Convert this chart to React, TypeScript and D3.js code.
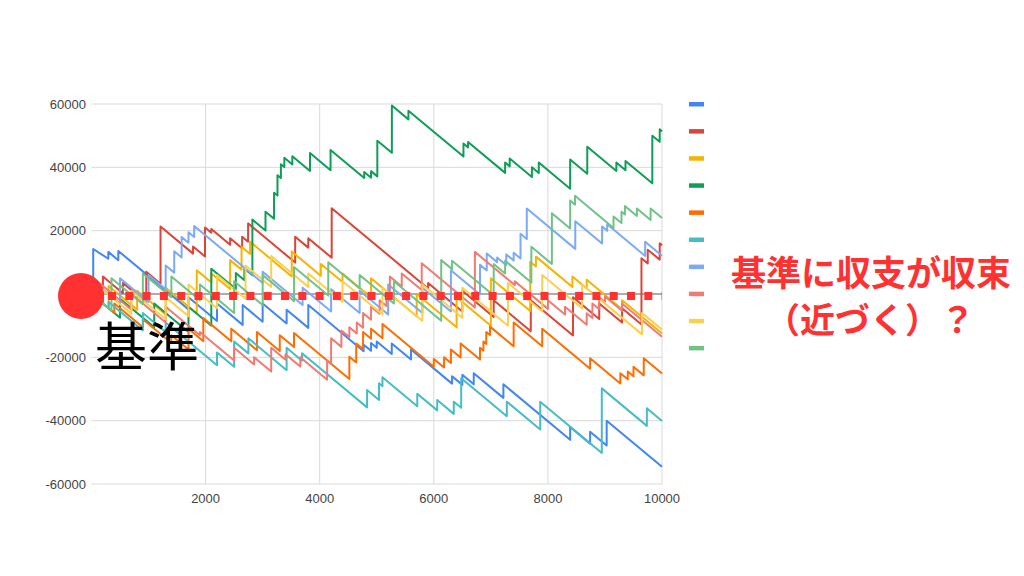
import React from "react";
import * as d3 from "d3";

// Tick labels
const yTicks = [60000, 40000, 20000, 0, -20000, -40000, -60000];
const yTickLabels = ["60000", "40000", "20000", "", "-20000", "-40000", "-60000"];
const xTicks = [2000, 4000, 6000, 8000, 10000];
const xTickLabels = ["2000", "4000", "6000", "8000", "10000"];

// Series: jumps as [x, valueBeforeJump, valueAfterJump]; each series starts at (0,0)
const blueJumps = [
  [30, -450, 14200], [295, 11140, 13300], [470, 10675, 13600], [1700, -4850, -1000],
  [2200, -8500, -3000], [2650, -9750, -3500], [3000, -8750, -3000], [3420, -9300, -5000],
  [3800, -10700, -3500], [4770, -18050, -16000], [4900, -17950, -15500], [5000, -17000, -15000],
  [5263, -18945, -15600], [5600, -20655, -17500], [6320, -28300, -26000], [6500, -28700, -25500],
  [6700, -28500, -25000], [7220, -32800, -28500], [8390, -46050, -42000], [8740, -47250, -43500],
  [9030, -47850, -40000],
];
const blueEnd = -54550;

const redJumps = [
  [200, -3000, 5500], [550, 250, 3500], [960, -2650, 7000], [1210, 3250, 21300],
  [1780, 12750, 15000], [1990, 11850, 21000], [2100, 19350, 20500], [2430, 15550, 17600],
  [2640, 14450, 18100], [2745, 16525, 22300], [3570, 9925, 18100], [3800, 14650, 17600],
  [4210, 11450, 27100], [5900, 1750, 3500], [6500, -5500, 1000], [7050, -7250, -2000],
  [7700, -11750, -2000], [8440, -13100, -1000], [8900, -7900, -3000], [9300, -9000, -4500],
  [9640, -9600, 11300], [9750, 9650, 14000], [9960, 10850, 16000],
];
const redEnd = 15400;

const yellowJumps = [
  [300, -4500, 2500], [800, -5000, 1000], [1300, -6500, 2000], [1845, -6175, 7500],
  [2100, 3675, 6500], [2430, 1550, 10700], [2630, 7700, 14900], [2780, 12650, 16500],
  [3510, 5550, 13400], [4020, 5750, 9500], [4400, 3800, 6500], [4900, -1000, 5000],
  [5700, -7000, 0], [6400, -10500, -1000], [7000, -10000, 5000], [7690, -5350, 10200],
  [7790, 8700, 11800], [8430, 2200, 5500], [8680, 1750, 4500], [9300, -4800, -2000],
];
const yellowEnd = -12500;

const greenJumps = [
  [500, -7500, -1500], [1100, -10500, -3000], [1700, -12000, -4000], [2100, -10000, 8000],
  [2530, 1550, 6600], [2680, 4350, 8000], [2820, 5900, 23500], [3050, 20050, 26000],
  [3200, 23750, 32000], [3260, 31100, 37500], [3320, 36600, 41000], [3380, 40100, 43000],
  [3520, 40900, 43500], [3830, 38850, 44500], [4190, 39100, 45500], [4780, 36650, 38500],
  [4900, 36700, 38800], [5010, 37150, 48400], [5265, 44575, 59500], [5555, 55150, 57900],
  [6520, 43425, 47500], [6600, 46300, 48000], [7250, 38250, 41500], [7330, 40300, 42800],
  [7720, 36950, 40000], [7840, 38200, 41500], [8390, 33250, 42500], [8690, 38000, 46500],
  [9200, 38850, 41500], [9360, 39100, 42000], [9830, 34950, 50000], [9960, 48050, 52000],
];
const greenEnd = 51400;

const orangeJumps = [
  [400, -6000, -3000], [900, -10500, -8000], [1400, -15500, -13000], [1700, -17500, -11000],
  [1960, -14900, -7600], [2450, -14950, -11000], [2900, -17750, -12000], [3300, -18000, -13000],
  [3550, -16750, -12300], [4520, -26850, -19800], [4640, -21600, -15600], [4760, -17400, -12000],
  [4900, -14100, -11000], [5100, -14000, -9500], [6000, -23000, -20500], [6180, -23200, -20000],
  [6300, -21800, -17500], [6470, -20050, -15600], [6810, -20700, -17000], [6870, -17900, -15000],
  [6920, -15750, -12000], [6985, -12975, -10300], [7400, -16525, -9000], [7900, -16500, -11000],
  [8740, -23600, -20300], [9270, -28250, -25000], [9400, -26950, -24500], [9500, -26000, -23000],
  [9680, -25700, -20300],
];
const orangeEnd = -25100;

const tealJumps = [
  [300, -4500, -2500], [900, -11500, -6000], [1300, -12000, -9000], [2200, -22500, -18500],
  [2500, -23000, -15000], [2750, -18750, -14000], [3420, -24050, -17000], [3690, -21050, -18700],
  [4830, -35800, -30300], [5040, -33450, -28200], [5100, -29100, -26300], [5710, -35450, -31500],
  [6060, -36750, -33500], [6350, -37850, -34000], [6480, -35950, -26600], [7280, -38600, -34000],
  [7865, -42775, -34000], [8945, -50200, -29800], [9735, -41650, -36100],
];
const tealEnd = -40075;

const lightBlueJumps = [
  [100, -1500, 3000], [500, -3000, 5000], [1000, -2500, 6000], [1300, 1500, 9000],
  [1450, 6750, 13500], [1580, 11550, 18000], [1700, 16200, 19500], [1800, 18000, 21500],
  [3000, 3500, 7000], [3700, -3500, 2000], [4200, -5500, 1500], [4700, -6000, 1000],
  [5200, -6500, 3000], [5800, -6000, 2000], [6300, -5500, 7500], [6810, -150, 9200],
  [6928, 7430, 12800], [7110, 10070, 11500], [7270, 9100, 12500], [7400, 10550, 13000],
  [7520, 11200, 19000], [7630, 17350, 27000], [8480, 14250, 23000], [8950, 15950, 21300],
  [9040, 19950, 22000], [9705, 12025, 16500],
];
const lightBlueEnd = 12075;

const lightRedJumps = [
  [100, -1500, 4000], [700, -5000, 0], [1300, -9000, -4000], [1900, -13000, -12000],
  [2500, -21000, -17000], [2850, -22250, -20000], [3150, -24500, -17000], [3400, -20750, -19000],
  [3660, -22900, -20000], [4130, -27050, -21000], [4200, -22050, -14000], [4380, -16700, -11500],
  [4520, -13600, -10500], [4650, -12450, -9000], [4760, -10650, -6000], [4900, -8100, -4000],
  [5050, -6250, -2000], [5170, -3800, 0], [5230, -900, 5500], [5438, 2380, 6500],
  [5788, 1250, 9700], [6720, -4280, 13300], [7420, 2800, 4000], [8000, -4700, -2000],
  [8300, -6500, -4000], [8680, -9700, -6100], [8780, -7600, -3000], [8900, -4800, -1000],
  [9000, -2500, -800], [9300, -5300, -3000],
];
const lightRedEnd = -13500;

const lightYellowJumps = [
  [150, -2250, 2000], [700, -6250, 1000], [1300, -8000, -1000], [1700, -7000, 3000],
  [2200, -4500, 6000], [2700, -1500, 9000], [3150, 2250, 12000], [3800, 2250, 6500],
  [4400, -2500, 4000], [5100, -6500, 2000], [5800, -8500, 3000], [6500, -7500, 2000],
  [7300, -10000, 3500], [7900, -5500, 6000], [8600, -4500, 3000], [9650, -12750, -6000],
];
const lightYellowEnd = -11250;

const lightGreenJumps = [
  [350, -5250, 5000], [900, -3250, 6500], [1400, -1000, 5500], [1900, -2000, 3000],
  [2500, -6000, 4000], [3000, -3500, 6000], [3550, -2250, 8500], [4150, -500, 10000],
  [4700, 1750, 6000], [5300, -3000, 4000], [6130, -8450, 10700], [6320, 7850, 10500],
  [7050, -450, 9500], [7250, 6500, 10500], [7710, 3600, 14900], [8070, 9500, 25500],
  [8390, 20700, 29500], [8475, 28225, 31000], [9150, 20875, 24500], [9290, 22400, 26000],
  [9350, 25100, 27800], [9560, 24650, 27000], [9800, 23400, 27000],
];
const lightGreenEnd = 24000;

const seriesColors = [
  "#4285F4", "#DB4437", "#F4B400", "#0F9D58", "#FF6D01",
  "#46BDC6", "#7BAAF7", "#F07B72", "#FCD04F", "#71C287",
];

const seriesTable = [
  { jumps: blueJumps, end: blueEnd },
  { jumps: redJumps, end: redEnd },
  { jumps: yellowJumps, end: yellowEnd },
  { jumps: greenJumps, end: greenEnd },
  { jumps: orangeJumps, end: orangeEnd },
  { jumps: tealJumps, end: tealEnd },
  { jumps: lightBlueJumps, end: lightBlueEnd },
  { jumps: lightRedJumps, end: lightRedEnd },
  { jumps: lightYellowJumps, end: lightYellowEnd },
  { jumps: lightGreenJumps, end: lightGreenEnd },
];

const W = 1024;
const H = 576;
const RED = "#FF3131";

export default function App() {
  const x = d3.scaleLinear().domain([0, 10000]).range([91.5, 662]);
  const y = d3.scaleLinear().domain([-60000, 60000]).range([484, 104]);
  const line = d3
    .line<number[]>()
    .x((d) => x(d[0]))
    .y((d) => y(d[1]));

  const paths = seriesTable.map((s) => {
    const pts: number[][] = [[0, 0]];
    s.jumps.forEach(([jx, a, b]) => {
      pts.push([jx, a]);
      pts.push([jx, b]);
    });
    pts.push([10000, s.end]);
    return line(pts) as string;
  });

  const font = "Arial, 'Liberation Sans', sans-serif";
  const y0 = y(0);

  return (
    <svg
      width={W}
      height={H}
      viewBox={`0 0 ${W} ${H}`}
      style={{ position: "absolute", left: 0, top: 0, background: "#fff" }}
    >
      <rect x={0} y={0} width={W} height={H} fill="#fff" />
      {yTicks.map((t) => (
        <line key={"hy" + t} x1={x(0)} x2={x(10000)} y1={y(t)} y2={y(t)} stroke="#d9d9d9" strokeWidth={1} />
      ))}
      {xTicks.map((t) => (
        <line key={"vx" + t} x1={x(t)} x2={x(t)} y1={y(60000)} y2={y(-60000)} stroke="#d9d9d9" strokeWidth={1} />
      ))}
      <line x1={x(0)} x2={x(10000)} y1={y0} y2={y0} stroke="#999" strokeWidth={1.5} />
      {yTicks.map((t, i) => (
        <text key={"ty" + t} x={86} y={y(t)} dy="0.35em" textAnchor="end" fontSize={13} fill="#444" fontFamily={font}>
          {yTickLabels[i]}
        </text>
      ))}
      {xTicks.map((t, i) => (
        <text key={"tx" + t} x={x(t)} y={503} textAnchor="middle" fontSize={13} fill="#444" fontFamily={font}>
          {xTickLabels[i]}
        </text>
      ))}
      {paths.map((p, i) => (
        <path key={"s" + i} d={p} fill="none" stroke={seriesColors[i]} strokeWidth={2} strokeLinejoin="round" />
      ))}
      {seriesColors.map((c, i) => (
        <rect key={"lg" + i} x={689} y={102 + i * 27.1} width={15} height={4.5} fill={c} />
      ))}
      <line
        x1={108}
        x2={662}
        y1={y0 + 2}
        y2={y0 + 2}
        stroke={RED}
        strokeWidth={8}
        strokeDasharray="8 9.3"
      />
      <circle cx={81} cy={296} r={23} fill={RED} />
      <text x={95} y={366} fontSize={52} fill="#000" fontFamily="'Noto Sans CJK JP', sans-serif">
        基準
      </text>
      <text x={871} y={286} textAnchor="middle" fontSize={35} fontWeight={700} fill={RED} fontFamily="'Noto Sans CJK JP', sans-serif">
        基準に収支が収束
      </text>
      <text x={870} y={333} textAnchor="middle" fontSize={35} fontWeight={700} fill={RED} fontFamily="'Noto Sans CJK JP', sans-serif">
        （近づく）？
      </text>
    </svg>
  );
}
